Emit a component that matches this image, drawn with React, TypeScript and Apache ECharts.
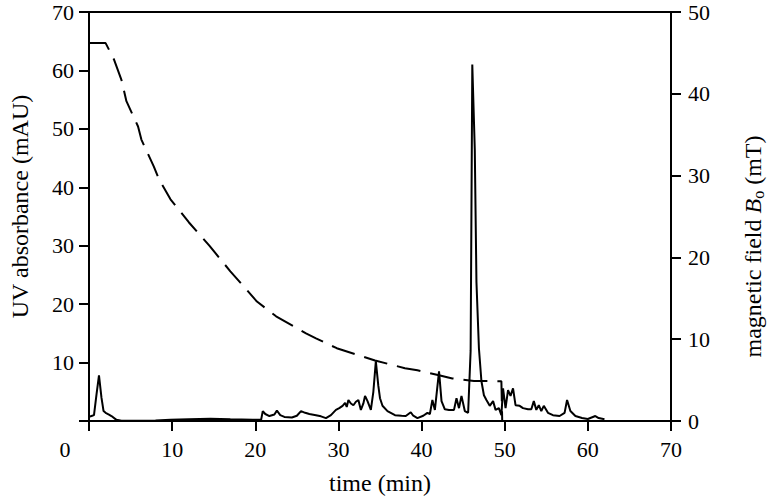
import React, { useEffect, useRef } from 'react';
import * as echarts from 'echarts';

// time (min), UV absorbance (mAU)
const uvTime: number[] = [
  0, 0.3, 0.6, 0.9, 1.2, 1.5, 1.75, 2.0, 2.4, 2.7, 3.3, 3.9, 6, 8, 9.8, 12, 14.6, 17, 19.7, 20.7,
  20.9, 21.2, 21.7, 22.3, 22.6, 23.0, 23.5, 24.4, 25.0, 25.5, 26.0, 26.5, 27.3, 27.9, 28.5, 29.1, 29.7, 30.1, 30.5, 30.8,
  31.0, 31.2, 31.5, 31.8, 32.1, 32.4, 32.7, 33.0, 33.2, 33.5, 33.9, 34.2, 34.5, 34.8, 35.0, 35.3, 35.9, 36.8, 37.6, 38.1,
  38.7, 39.0, 39.5, 40.2, 40.7, 41.0, 41.3, 41.6, 42.1, 42.4, 42.8, 43.3, 43.9, 44.2, 44.5, 44.8, 45.2, 45.6, 45.9, 46.1,
  46.4, 46.6, 46.9, 47.2, 47.5, 47.8, 48.2, 48.6, 48.9, 49.3, 49.6, 49.8, 50.1, 50.4, 50.7, 51.0, 51.3, 51.8, 52.2, 52.8,
  53.2, 53.5, 53.8, 54.1, 54.4, 54.7, 55.2, 55.8, 56.6, 57.2, 57.5, 57.9, 58.5, 59.3, 60.0, 60.9, 61.3, 62.0,
];
const uvValues: number[] = [
  0.7, 0.85, 1.0, 4.5, 7.8, 4.0, 1.7, 1.4, 1.1, 0.85, 0.2, 0.05, 0.05, 0.1, 0.2, 0.3, 0.4, 0.3, 0.2, 0.2,
  1.7, 1.2, 0.85, 1.1, 1.8, 1.0, 0.7, 0.6, 0.9, 1.7, 1.4, 1.2, 1.0, 0.8, 0.5, 1.0, 1.9, 2.2, 2.6, 3.1,
  2.4, 3.6, 3.0, 2.7, 3.3, 3.6, 1.9, 3.0, 4.3, 3.4, 1.9, 5.0, 10.2, 6.0, 3.9, 2.6, 1.7, 1.0, 0.9, 0.85,
  1.5, 0.9, 0.5, 0.9, 1.4, 1.2, 3.6, 1.9, 8.5, 3.4, 2.0, 1.9, 1.9, 3.9, 2.2, 4.3, 1.7, 1.4, 12, 61.0,
  46.5, 23.8, 12.4, 6.8, 4.4, 3.6, 2.6, 3.4, 1.9, 2.2, 1.0, 5.6, 2.2, 5.3, 4.3, 5.6, 2.7, 2.6, 2.2, 2.0,
  2.0, 3.4, 1.9, 2.7, 1.7, 2.6, 1.4, 1.0, 0.85, 1.4, 3.6, 1.7, 0.85, 0.5, 0.35, 0.85, 0.5, 0.3,
];

// time (min), magnetic field B0 (mT)
const fieldTime: number[] = [
  0, 2.0, 2.4, 3.0, 3.9, 4.5, 5.9, 6.3, 7.8, 8.4, 9.8, 12, 14.5, 17, 20.2, 22.5, 26.1, 27.3, 29.8, 34.4,
  38, 39.5, 42.1, 43.7, 46.3, 49.6, 49.7,
];
const fieldValues: number[] = [
  46.2, 46.2, 45.4, 44.2, 41.7, 39.1, 36.0, 34.4, 31.1, 29.6, 27.1, 24.3, 21.4, 18.3, 14.6, 12.8, 10.7, 10.1, 8.9, 7.4,
  6.45, 6.2, 5.6, 5.2, 4.9, 4.87, 0,
];

const xLabel = 'time (min)';
const yLeftLabel = 'UV absorbance (mAU)';

const FONT = 'Liberation Serif, Times New Roman, Times, serif';
const BLACK = '#000';

export default function App() {
  const ref = useRef<HTMLDivElement>(null);
  useEffect(() => {
    if (!ref.current) return;
    const chart = echarts.init(ref.current, null, { renderer: 'svg' });
    const axisLine = { show: true, onZero: false, lineStyle: { color: BLACK, width: 2 } };
    const axisTick = { show: true, length: 10, lineStyle: { color: BLACK, width: 2 } };
    const label = { color: BLACK, fontSize: 22, fontFamily: FONT };
    const nameStyle = { color: BLACK, fontSize: 24, fontFamily: FONT };
    chart.setOption({
      animation: false,
      backgroundColor: '#fff',
      grid: { left: 87, right: 97, top: 12, bottom: 77, containLabel: false },
      xAxis: [
        {
          type: 'value',
          min: 0,
          max: 70,
          interval: 10,
          position: 'bottom',
          axisLine,
          axisTick,
          splitLine: { show: false },
          axisLabel: {
            ...label,
            margin: 17,
            formatter: (v: number) => (v === 0 ? '{z|0}' : String(v)),
            rich: { z: { ...label, padding: [0, 48, 0, 0] } },
          },
          name: xLabel,
          nameLocation: 'middle',
          nameGap: 50,
          nameTextStyle: nameStyle,
        },
        {
          type: 'value',
          min: 0,
          max: 70,
          position: 'top',
          axisLine,
          axisTick: { show: false },
          axisLabel: { show: false },
          splitLine: { show: false },
        },
      ],
      yAxis: [
        {
          type: 'value',
          min: 0,
          max: 70,
          interval: 10,
          position: 'left',
          axisLine,
          axisTick,
          splitLine: { show: false },
          axisLabel: { ...label, margin: 15, formatter: (v: number) => (v === 0 ? '' : String(v)) },
          name: yLeftLabel,
          nameLocation: 'middle',
          nameGap: 57,
          nameTextStyle: { ...nameStyle, padding: [0, 0, 0, 20] },
        },
        {
          type: 'value',
          min: 0,
          max: 50,
          interval: 10,
          position: 'right',
          axisLine,
          axisTick,
          splitLine: { show: false },
          axisLabel: { ...label, margin: 17 },
          name: 'magnetic field {i|B}{s|o} (mT)',
          nameLocation: 'middle',
          nameGap: 69,
          nameTextStyle: {
            ...nameStyle,
            padding: [0, 60, 0, 0],
            rich: {
              i: { ...nameStyle, fontStyle: 'italic' },
              s: { ...nameStyle, fontSize: 16, padding: [10, 0, 0, 0] },
            },
          },
        },
      ],
      series: [
        {
          type: 'line',
          xAxisIndex: 0,
          yAxisIndex: 1,
          showSymbol: false,
          data: fieldTime.map((t, i) => [t, fieldValues[i]]),
          lineStyle: { color: BLACK, width: 2, type: [24, 10] },
          z: 2,
        },
        {
          type: 'line',
          xAxisIndex: 0,
          yAxisIndex: 0,
          showSymbol: false,
          data: uvTime.map((t, i) => [t, uvValues[i]]),
          lineStyle: { color: BLACK, width: 2 },
          z: 3,
        },
      ],
    });
    return () => chart.dispose();
  }, []);
  return <div ref={ref} style={{ position: 'fixed', left: 0, top: 0, width: 774, height: 500 }} />;
}
